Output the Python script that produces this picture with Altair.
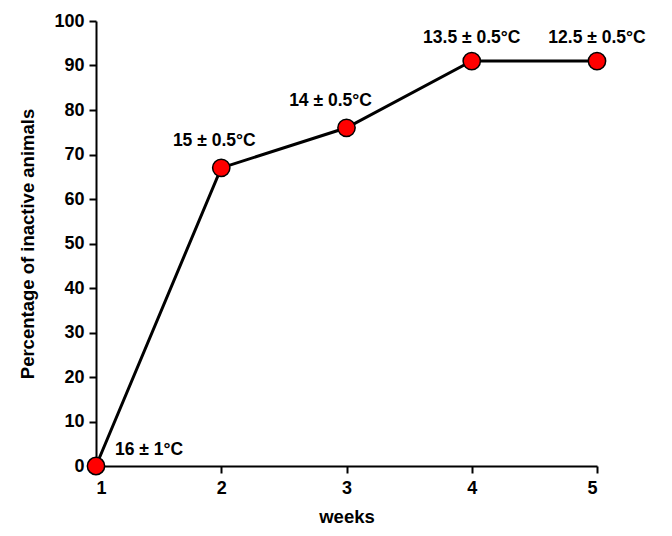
import altair as alt
import pandas as pd

weeks = [1, 2, 3, 4, 5]
inactive_pct = [0, 67, 76, 91, 91]
temps = ["16 ± 1°C", "15 ± 0.5°C", "14 ± 0.5°C", "13.5 ± 0.5°C", "12.5 ± 0.5°C"]
label_group = ["first", "second", "third", "top", "top"]

df = pd.DataFrame({"week": weeks, "pct": inactive_pct, "temp": temps, "grp": label_group})

FONT = "Liberation Sans"

x = alt.X("week:Q", scale=alt.Scale(domain=[1, 5], nice=False, zero=False),
          axis=alt.Axis(values=[1, 2, 3, 4, 5], format="d", title="weeks", grid=False,
                        domainColor="black", domainWidth=2, tickColor="black", tickWidth=2,
                        tickSize=7, labelFont=FONT, labelFontSize=18, labelFontWeight="bold",
                        labelColor="black", labelPadding=6, titleFont=FONT, titleFontSize=18.5,
                        titleFontWeight="bold", titleColor="black", titlePadding=10))
y = alt.Y("pct:Q", scale=alt.Scale(domain=[0, 100], nice=False),
          axis=alt.Axis(values=list(range(0, 101, 10)), title="Percentage of inactive animals",
                        grid=False, domainColor="black", domainWidth=2, tickColor="black",
                        tickWidth=2, tickSize=7, labelFont=FONT, labelFontSize=18,
                        labelFontWeight="bold", labelColor="black", labelPadding=5,
                        titleFont=FONT, titleFontSize=18.5, titleFontWeight="bold",
                        titleColor="black", titlePadding=16))

base = alt.Chart(df)
line = base.mark_line(color="black", strokeWidth=3).encode(x=x, y=y)
pts = base.mark_point(filled=True, fill="#ff0000", stroke="black", strokeWidth=1.5,
                      size=300, opacity=1).encode(x="week:Q", y="pct:Q")

def lab(grp, align, dx, dy):
    return base.transform_filter(alt.datum.grp == grp).mark_text(
        font=FONT, fontSize=17.5, fontWeight="bold", color="black",
        align=align, dx=dx, dy=dy, baseline="middle").encode(x="week:Q", y="pct:Q", text="temp:N")

chart = alt.layer(line, pts, lab("first", "left", 19, -16), lab("second", "center", -7, -27),
                  lab("third", "center", -16, -27), lab("top", "center", 0, -23)).properties(
    width=501, height=445,
    autosize=alt.AutoSizeParams(type="none"),
    padding={"left": 88, "top": 13, "right": 60, "bottom": 62},
).configure_view(stroke=None)

chart.save("out.html", embed_options={"renderer": "svg", "actions": False})
